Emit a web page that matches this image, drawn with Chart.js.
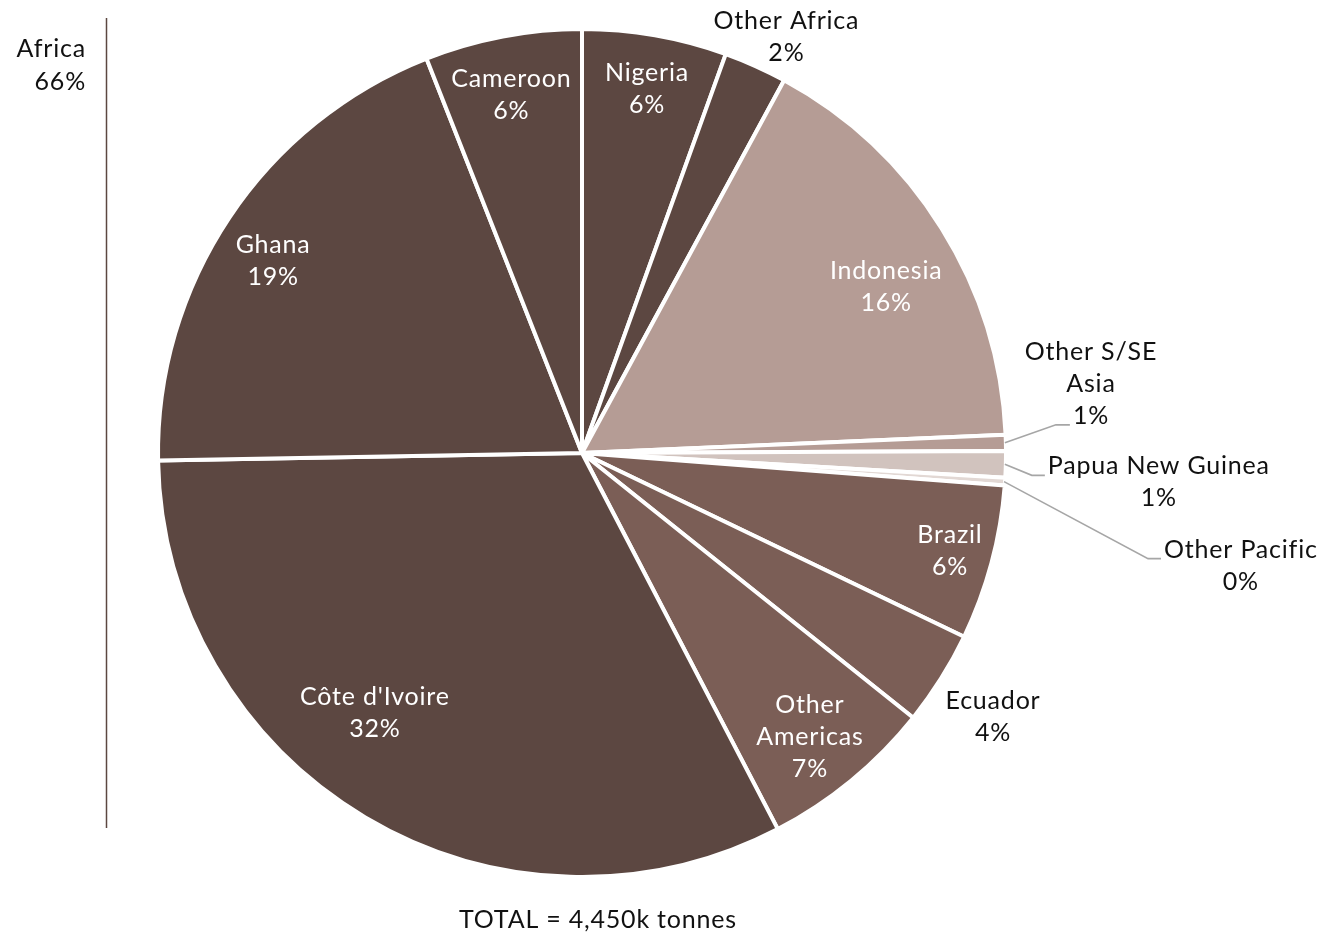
<!DOCTYPE html>
<html>
<head>
<meta charset="utf-8">
<title>Cocoa production by country</title>
<script src="https://cdn.jsdelivr.net/npm/chart.js@4.4.0/dist/chart.umd.min.js"></script>
<style>
  body { margin: 0; background: #fff; }
  canvas { display: block; }
</style>
</head>
<body>
<canvas id="cocoaPie" width="1325" height="935"></canvas>
<script>
"use strict";
// ========== DATA ========== //
// slices in clockwise order starting at 12 o'clock, values in thousand tonnes
const _countries = [
  "Nigeria", "Other Africa", "Indonesia", ["Other S/SE", "Asia"], "Papua New Guinea",
  "Other Pacific", "Brazil", "Ecuador", ["Other", "Americas"], "Côte d'Ivoire", "Ghana", "Cameroon"
];
const _tonnes = [245, 107, 730, 27, 45, 13, 263, 160, 295, 1440, 859, 266];
const _regions = [
  "Africa", "Africa", "Asia", "Asia", "Pacific",
  "Pacific", "Americas", "Americas", "Americas", "Africa", "Africa", "Africa"
];
const _totalText = "TOTAL = 4,450k tonnes";

// ========== STYLE ========== //
const _font = "Lato, 'Open Sans', sans-serif";
const _fontSize = 25;
const _lineHeight = 32;
const _sliceColors = [
  "#5c4741", "#5c4741", "#b59c95", "#b59c95", "#d1c3be",
  "#e2d8d4", "#7b5e56", "#7b5e56", "#7b5e56", "#5c4741", "#5c4741", "#5c4741"
];
// label placement per slice: radius factor + angle shift (deg), or a leader line
const _labelSpots = [
  { r: 0.873, shift: 0.2, color: "#fff" },
  { r: 1.094, shift: 2, color: "#111" },
  { r: 0.817, shift: 3.4, color: "#fff" },
  { leader: { dx: 51, dy: -18, tail: 14, line: 2 } },
  { leader: { dx: 27, dy: 11, tail: 13, line: 0 } },
  { leader: { dx: 144, dy: 77, tail: 13, line: 0 } },
  { r: 0.898, shift: -0.15, color: "#fff" },
  { r: 1.152, shift: 0.55, color: "#111" },
  { r: 0.859, shift: 0.7, color: "#fff" },
  { r: 0.784, shift: 7.8, color: "#fff" },
  { r: 0.858, shift: -1.85, color: "#fff" },
  { r: 0.861, shift: -0.4, color: "#fff" }
];

const _total = _tonnes.reduce((a, b) => a + b, 0);

function percentText(value) {
  return Math.round(value / _total * 100) + "%";
}

function labelLines(i) {
  let name = _countries[i];
  let lines = Array.isArray(name) ? name.slice() : [name];
  lines.push(percentText(_tonnes[i]));
  return lines;
}

// draws a block of centered lines around (x, y)
function drawBlock(ctx, lines, x, y, color) {
  ctx.fillStyle = color;
  ctx.textAlign = "center";
  ctx.textBaseline = "middle";
  let top = y - (lines.length - 1) * _lineHeight / 2;
  lines.forEach((line, k) => ctx.fillText(line, x, top + k * _lineHeight));
}

const sliceLabels = {
  id: "sliceLabels",
  afterDraw(chart) {
    const ctx = chart.ctx;
    const meta = chart.getDatasetMeta(0);
    ctx.save();
    ctx.font = _fontSize + "px " + _font;
    ctx.letterSpacing = "0.8px";

    meta.data.forEach((arc, i) => {
      const p = arc.getProps(["x", "y", "startAngle", "endAngle", "outerRadius"], true);
      const spot = _labelSpots[i];
      const lines = labelLines(i);
      const mid = (p.startAngle + p.endAngle) / 2;

      if (spot.leader) {
        // leader line: slice edge -> elbow -> short horizontal tail
        const edgeR = p.outerRadius - 1;
        const sx = p.x + Math.cos(mid) * edgeR;
        const sy = p.y + Math.sin(mid) * edgeR;
        const ex = sx + spot.leader.dx;
        const ey = sy + spot.leader.dy;
        const tx = ex + spot.leader.tail;
        ctx.strokeStyle = "#a6a6a6";
        ctx.lineWidth = 1.6;
        ctx.beginPath();
        ctx.moveTo(sx, sy);
        ctx.lineTo(ex, ey);
        ctx.lineTo(tx, ey);
        ctx.stroke();

        const w = ctx.measureText(lines[spot.leader.line]).width;
        const cx = tx + 3 + w / 2;
        const lineY = ey - 9;
        const cy = lineY + ((lines.length - 1) / 2 - spot.leader.line) * _lineHeight;
        drawBlock(ctx, lines, cx, cy, "#111");
      } else {
        const a = mid + spot.shift * Math.PI / 180;
        const r = p.outerRadius * spot.r;
        drawBlock(ctx, lines, p.x + Math.cos(a) * r, p.y + Math.sin(a) * r, spot.color);
      }
    });

    // Africa share with its bracket line
    let africa = 0;
    _tonnes.forEach((v, i) => { if (_regions[i] === "Africa") africa += v; });
    ctx.fillStyle = "#111";
    ctx.textAlign = "right";
    ctx.textBaseline = "middle";
    ctx.fillText("Africa", 86, 49);
    ctx.fillText(percentText(africa), 86, 82);
    ctx.strokeStyle = "#5c4741";
    ctx.lineWidth = 1.5;
    ctx.beginPath();
    ctx.moveTo(106.5, 18);
    ctx.lineTo(106.5, 828);
    ctx.stroke();

    // total under the pie
    ctx.textAlign = "center";
    ctx.fillText(_totalText, 598, 920);
    ctx.restore();
  }
};

let chart = document.querySelector("#cocoaPie");
let cocoaPie = new Chart(chart, {
  type: "pie",
  data: {
    labels: _countries,
    datasets: [{
      data: _tonnes,
      backgroundColor: _sliceColors,
      borderColor: "#fff",
      borderWidth: 4
    }]
  },
  options: {
    responsive: false,
    animation: false,
    layout: { padding: { left: 156, right: 317, top: 27, bottom: 56 } },
    plugins: {
      legend: { display: false },
      tooltip: { enabled: false }
    }
  },
  plugins: [sliceLabels]
});
</script>
</body>
</html>
